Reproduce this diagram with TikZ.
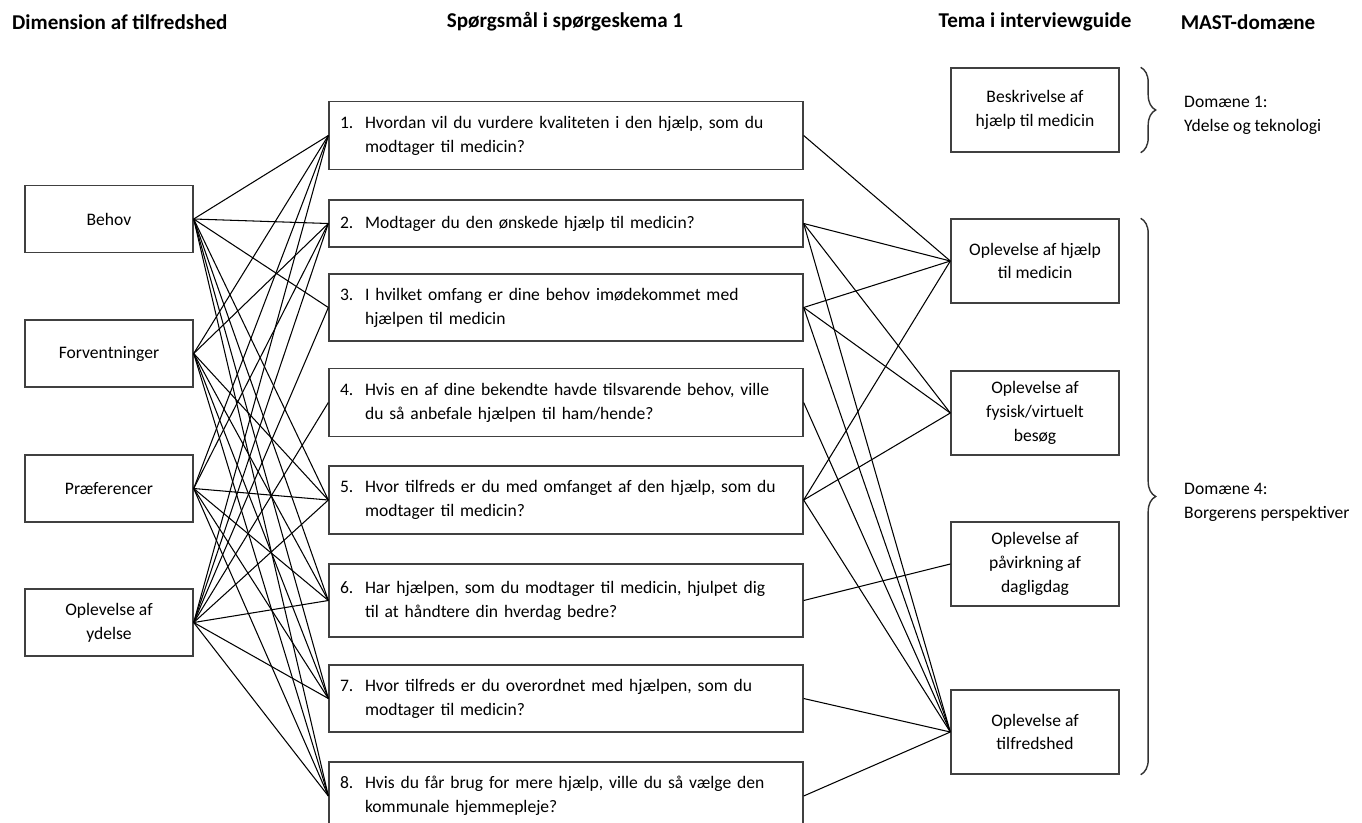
\documentclass[tikz,border=0pt]{standalone}
\usepackage{fontspec}
\setmainfont{Carlito}
\usetikzlibrary{decorations.pathreplacing}

\newcommand{\spm}[3]{\makebox[0.5cm][l]{#1}#2\ifx\relax#3\relax\else\\\hspace*{0.5cm}#3\fi}

\begin{document}
\begin{tikzpicture}[
        x=0.02cm, y=-0.02cm,
        txt/.style={font=\fontsize{10pt}{13.6pt}\selectfont},
        header/.style={font=\fontsize{12pt}{14pt}\selectfont\bfseries},
        dimbox/.style={txt, draw=black!75, line width=0.8pt, minimum width=3.36cm, minimum height=1.34cm, inner sep=0pt, align=center},
        qbox/.style={txt, draw=black!75, line width=0.8pt, text width=9.04cm, inner xsep=0.22cm, inner ysep=0pt, minimum height=1.36cm, align=left},
        temabox/.style={txt, draw=black!75, line width=0.8pt, minimum width=3.36cm, minimum height=1.68cm, inner sep=0pt, align=center},
        link/.style={black, line width=0.6pt},
        brace/.style={draw=black!80, line width=0.8pt, decorate, decoration={brace, amplitude=0.3cm}}
    ]
    \useasboundingbox (0,0) rectangle (1362,822);

    % overskrifter
    \node[header, anchor=west] (h1) at (6,22) {Dimension af tilfredshed};
    \node[header] (h2) at (565,22) {Spørgsmål i spørgeskema 1};
    \node[header] (h3) at (1035,22) {Tema i interviewguide};
    \node[header] (h4) at (1248,22) {MAST-domæne};

    % dimensioner
    \node[dimbox] (behov) at (109,219) {Behov};
    \node[dimbox] (forv) at (109,353.5) {Forventninger};
    \node[dimbox] (praef) at (109,488.5) {Præferencer};
    \node[dimbox] (oplev) at (109,622.5) {Oplevelse af\\ydelse};

    % spørgsmål
    \node[qbox] (q1) at (566,135.5) {\spm{1.}{Hvordan vil du vurdere kvaliteten i den hjælp, som du}{modtager til medicin?}};
    \node[qbox, minimum height=0.94cm] (q2) at (566,223.5) {\spm{2.}{Modtager du den ønskede hjælp til medicin?}{}};
    \node[qbox, minimum height=1.34cm] (q3) at (566,307.5) {\spm{3.}{I hvilket omfang er dine behov imødekommet med}{hjælpen til medicin}};
    \node[qbox] (q4) at (566,402.5) {\spm{4.}{Hvis en af dine bekendte havde tilsvarende behov, ville}{du så anbefale hjælpen til ham/hende?}};
    \node[qbox] (q5) at (566,500) {\spm{5.}{Hvor tilfreds er du med omfanget af den hjælp, som du}{modtager til medicin?}};
    \node[qbox, minimum height=1.46cm] (q6) at (566,600.5) {\spm{6.}{Har hjælpen, som du modtager til medicin, hjulpet dig}{til at håndtere din hverdag bedre?}};
    \node[qbox, minimum height=1.34cm] (q7) at (566,698.5) {\spm{7.}{Hvor tilfreds er du overordnet med hjælpen, som du}{modtager til medicin?}};
    \node[qbox] (q8) at (566,796) {\spm{8.}{Hvis du får brug for mere hjælp, ville du så vælge den}{kommunale hjemmepleje?}};

    % temaer
    \node[temabox] (beskr) at (1035,110) {Beskrivelse af\\hjælp til medicin};
    \node[temabox] (hjaelp) at (1035,261) {Oplevelse af hjælp\\til medicin};
    \node[temabox] (besoeg) at (1035,413) {Oplevelse af\\fysisk/virtuelt\\besøg};
    \node[temabox] (dagl) at (1035,564) {Oplevelse af\\påvirkning af\\dagligdag};
    \node[temabox] (tilfr) at (1035,732) {Oplevelse af\\tilfredshed};

    % MAST
    \draw[brace] ([xshift=0.42cm]beskr.north east) -- ([xshift=0.42cm]beskr.south east);
    \draw[brace] ([xshift=0.42cm]hjaelp.north east) -- ([xshift=0.42cm]tilfr.south east);
    \node[txt, anchor=west, align=left] (dom1) at (1178,115) {Domæne 1:\\Ydelse og teknologi};
    \node[txt, anchor=west, align=left] (dom4) at (1178,502) {Domæne 4:\\Borgerens perspektiver};

    % dimension -> spørgsmål
    \foreach \q in {q1,q2,q3,q5,q6,q7,q8}
        \draw[link] (behov.east) -- (\q.west);
    \foreach \q in {q1,q2,q5,q6,q7,q8}
        \draw[link] (forv.east) -- (\q.west);
    \foreach \q in {q1,q2,q5,q6,q7,q8}
        \draw[link] (praef.east) -- (\q.west);
    \foreach \q in {q1,q2,q3,q4,q5,q6,q7,q8}
        \draw[link] (oplev.east) -- (\q.west);

    % spørgsmål -> tema
    \foreach \q/\t in {q1/hjaelp, q2/hjaelp, q2/besoeg, q2/tilfr, q3/hjaelp, q3/besoeg, q3/tilfr,
                       q4/tilfr, q5/hjaelp, q5/besoeg, q5/tilfr, q6/dagl, q7/tilfr, q8/tilfr}
        \draw[link] (\q.east) -- (\t.west);
\end{tikzpicture}
\end{document}
